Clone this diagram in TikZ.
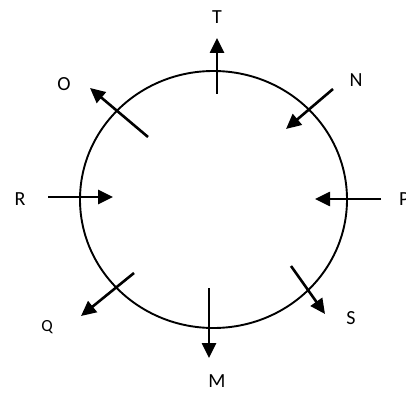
\documentclass[tikz,border=0pt]{standalone}
\usepackage{fontspec}
\setmainfont{Carlito}
\usetikzlibrary{arrows.meta}
\begin{document}
\begin{tikzpicture}[x=1pt,y=-1pt,
  dirarrow/.style={line width=2.6pt,-{Triangle[length=15pt,width=14pt]}},
  lbl/.style={font=\fontsize{20}{20}\selectfont,inner sep=0pt}]
\useasboundingbox (0,0) rectangle (406,395);
\fill[white] (0,0) rectangle (406,395);
\draw[line width=1.9pt] (213.5,199.5) ellipse [x radius=133.5, y radius=128.5];
% arrow end points
\coordinate (t1) at (217,94);  \coordinate (t2) at (217,38);
\coordinate (n1) at (333,89);  \coordinate (n2) at (286,129);
\coordinate (p1) at (381,199); \coordinate (p2) at (315,199);
\coordinate (s1) at (291,266); \coordinate (s2) at (325,314);
\coordinate (m1) at (209,288); \coordinate (m2) at (209,358);
\coordinate (q1) at (134,273); \coordinate (q2) at (81,316);
\coordinate (r1) at (48,197);  \coordinate (r2) at (113,197);
\coordinate (o1) at (148,137); \coordinate (o2) at (90,88);
\draw[dirarrow] (t1) -- (t2);
\draw[dirarrow] (n1) -- (n2);
\draw[dirarrow] (p1) -- (p2);
\draw[dirarrow] (s1) -- (s2);
\draw[dirarrow] (m1) -- (m2);
\draw[dirarrow] (q1) -- (q2);
\draw[dirarrow] (r1) -- (r2);
\draw[dirarrow] (o1) -- (o2);
% labels
\node[lbl] (T) at (217,17) {T};
\node[lbl] (N) at (356,80) {N};
\node[lbl,anchor=west] (P) at (399,199) {P};
\node[lbl] (S) at (351,318) {S};
\node[lbl] (M) at (217,381) {M};
\node[lbl,font=\fontsize{17}{17}\selectfont] (Q) at (47,327) {Q};
\node[lbl] (R) at (20,199) {R};
\node[lbl] (O) at (64,84) {O};
\end{tikzpicture}
\end{document}
